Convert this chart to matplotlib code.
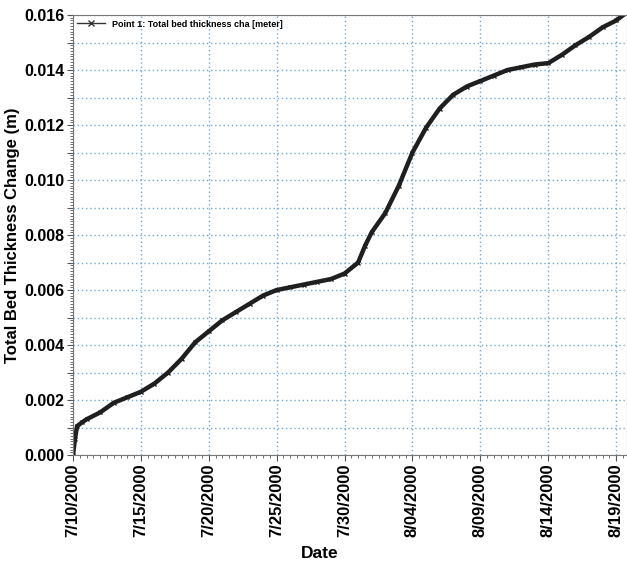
import matplotlib
matplotlib.use("Agg")
import matplotlib.pyplot as plt
import matplotlib.dates as mdates
from matplotlib.lines import Line2D
from matplotlib.ticker import MultipleLocator, FuncFormatter
from datetime import datetime, timedelta

plt.rcParams['font.family'] = ['Liberation Sans', 'DejaVu Sans']

# days since 7/10/2000 and bed thickness change (m)
days = [0, 0.15, 0.3, 0.7, 1, 2, 3, 4, 5, 6, 7, 8, 9, 10, 11, 12, 13, 14,
        15, 16, 17, 18, 19, 20, 21, 21.5, 22, 23, 24, 25, 26, 27, 28, 29,
        30, 31, 32, 33, 34, 35, 36, 37, 38, 39, 40, 40.8]
thick = [0.0, 0.0006, 0.00105, 0.0012, 0.0013, 0.00155, 0.0019, 0.0021,
         0.0023, 0.0026, 0.0030, 0.0035, 0.0041, 0.0045, 0.0049, 0.0052,
         0.0055, 0.0058, 0.0060, 0.0061, 0.0062, 0.0063, 0.0064, 0.0066,
         0.0070, 0.0076, 0.0081, 0.0088, 0.0098, 0.0110, 0.0119, 0.0126,
         0.0131, 0.0134, 0.0136, 0.0138, 0.0140, 0.0141, 0.0142, 0.01425,
         0.01455, 0.0149, 0.0152, 0.01555, 0.0158, 0.0161]

start = datetime(2000, 7, 10)
dates = [start + timedelta(days=d) for d in days]

fig = plt.figure(figsize=(6.27, 5.66), dpi=100)
ax = fig.add_axes([0.1164, 0.196, 0.8836, 0.7775])

ax.plot(dates, thick, color='#1f1f1f', linewidth=3.2, marker='x',
        markersize=3, solid_capstyle='round')

ax.set_xlim(start, start + timedelta(days=40.8))
ax.set_ylim(0, 0.016)

#x ticks every 5 days
ticks = [mdates.date2num(start + timedelta(days=5 * i)) for i in range(9)]
ax.set_xticks(ticks)
ax.xaxis.set_minor_locator(MultipleLocator(0.5))
ax.xaxis.set_major_formatter(FuncFormatter(
    lambda v, p: (lambda d: f"{d.month}/{d.day:02d}/{d.year}")(mdates.num2date(v))))

#y grid every 0.001, labels every 0.002
ax.yaxis.set_minor_locator(MultipleLocator(0.0001))
ax.set_yticks([i * 0.001 for i in range(17)])
ax.set_yticklabels([f"{i * 0.001:.3f}" if i % 2 == 0 else "" for i in range(17)])

ax.grid(True, which='major', color='#6fa8dc', linestyle=(0, (1, 2)), linewidth=1)

for lab in ax.get_xticklabels():
    lab.set_rotation(90)
    lab.set_fontweight('bold')
    lab.set_fontsize(12)
for lab in ax.get_yticklabels():
    lab.set_fontweight('bold')
    lab.set_fontsize(11.5)

ax.tick_params(which='major', length=4, color='#555555', pad=2)
ax.tick_params(which='minor', length=2, color='#555555')
for s in ax.spines.values():
    s.set_color('#777777')

ax.set_ylabel('Total Bed Thickness Change (m)', fontsize=12, fontweight='bold',
              labelpad=3)
ax.set_xlabel('Date', fontsize=12.5, fontweight='bold')
#the date label sits a bit left of the axes centre
ax.xaxis.set_label_coords(0.446, -0.207)

handle = Line2D([], [], color='#333333', linewidth=1, marker='x', markersize=4)
ax.legend([handle], ['Point 1: Total bed thickness cha [meter]'], loc='upper left',
          frameon=False, prop={'size': 6.5, 'weight': 'bold'},
          handlelength=3, borderaxespad=0.2, borderpad=0.3)

fig.savefig('out.png', dpi=100)
